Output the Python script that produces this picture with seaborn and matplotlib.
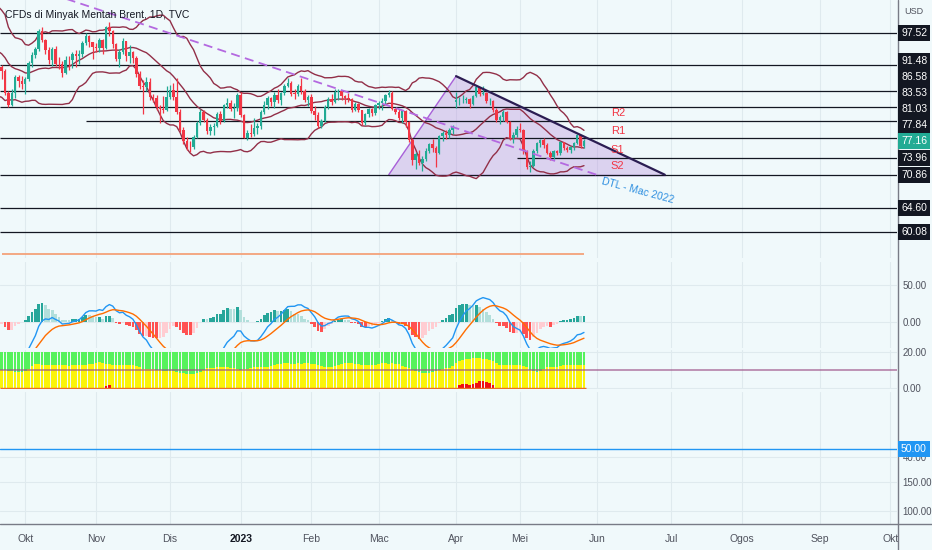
import numpy as np
import pandas as pd
import matplotlib
matplotlib.use("Agg")
import matplotlib.pyplot as plt
import seaborn as sns
from matplotlib.lines import Line2D
from matplotlib.patches import Polygon

sns.set_theme(style="white")
plt.rcParams['font.family'] = ['Liberation Sans', 'DejaVu Sans']

#########################
##### DATA #####
#########################
holidays = ['2022-12-26', '2023-01-02', '2023-04-07']

# closes before the visible window (only used to warm up the indicators)
warmup_closes = [99.34, 100.99, 105.09, 99.31, 96.49, 92.36, 93.02, 95.74, 92.83, 88.00,
                 89.15, 92.84, 94.00, 93.17, 94.10, 90.84, 91.35, 92.00, 90.62, 89.83]

# daily candles 2022-09-22 -> 2023-05-26
closes = [
    90.46, 86.15, 84.06, 86.27, 89.32, 88.49, 87.96,
    88.86, 91.80, 93.37, 94.42, 97.92, 96.19, 94.29, 92.45, 94.57, 91.63, 91.62, 90.03, 92.41, 92.38, 93.50, 93.26, 93.52, 95.69, 96.96, 95.77, 94.83,
    94.65, 96.16, 94.67, 98.57, 97.92, 95.36, 92.65, 94.00, 95.99, 93.14, 93.86, 92.86, 89.78, 87.62, 87.45, 88.36, 85.41, 85.34, 83.63, 83.19, 83.03, 85.43,
    86.88, 85.57, 82.68, 79.35, 77.17, 76.15, 76.10, 77.99, 80.68, 82.70, 81.21, 79.04, 79.80, 79.99, 82.20, 80.98, 83.92, 84.33, 83.26, 83.46, 85.91,
    82.10, 77.84, 78.69, 78.57, 79.65, 80.10, 82.67, 84.03, 85.28, 84.46, 85.92, 84.98, 86.16, 87.63, 88.19, 86.13, 86.12, 87.47, 86.66, 84.90, 85.46,
    82.84, 82.17, 79.94, 80.99, 83.69, 85.09, 84.50, 86.39, 86.61, 85.58, 85.38, 85.14, 83.00, 84.07, 83.05, 80.60, 82.21, 83.16, 82.45, 83.89,
    84.31, 84.75, 85.83, 86.18, 83.29, 82.66, 81.59, 82.78, 80.77, 77.45, 73.69, 74.70, 72.97, 73.79, 75.32, 76.69, 75.91, 74.99, 78.12, 78.65, 78.28, 79.27, 79.77,
    84.93, 84.94, 84.99, 85.12, 84.18, 85.61, 87.33, 86.09, 86.31, 84.76, 84.77, 83.12, 81.10, 81.66, 82.73, 80.77, 77.69, 78.37, 79.54,
    79.31, 75.32, 72.33, 72.50, 75.30, 76.75, 77.44, 76.41, 74.98, 74.17, 75.23, 74.91, 76.96, 75.86, 75.58, 75.99, 76.84, 78.36, 76.26, 77.16,
]
highs = [
    91.5, 90.7, 86.6, 86.9, 89.6, 89.6, 89.4,
    89.2, 92.2, 93.9, 94.8, 98.2, 98.7, 96.4, 94.9, 94.8, 95.0, 93.0, 92.2, 93.1, 93.2, 93.9, 94.3, 94.3, 96.0, 97.5, 97.1, 95.9,
    95.7, 96.6, 96.4, 98.8, 99.6, 98.1, 95.6, 94.5, 96.5, 96.1, 95.3, 94.1, 93.1, 90.4, 88.6, 89.2, 89.0, 86.0, 85.9, 84.0, 85.6, 87.6,
    87.8, 88.2, 89.0, 83.3, 79.9, 77.9, 77.2, 78.4, 80.9, 83.3, 83.0, 81.5, 80.4, 80.6, 82.6, 82.8, 84.2, 85.2, 84.9, 84.3, 86.2,
    86.4, 82.2, 79.2, 80.4, 81.5, 80.6, 83.0, 84.7, 85.6, 85.4, 86.4, 87.0, 86.5, 88.0, 89.1, 88.4, 86.9, 87.9, 89.0, 86.9, 85.8,
    86.1, 83.8, 82.6, 81.3, 83.9, 85.5, 86.1, 86.9, 86.9, 86.7, 85.9, 86.2, 85.2, 84.5, 84.4, 83.1, 82.4, 83.5, 83.4, 84.1,
    84.8, 85.2, 86.1, 86.8, 86.6, 83.5, 83.2, 83.0, 83.1, 81.0, 77.7, 75.1, 75.6, 74.3, 75.8, 76.9, 77.5, 76.3, 78.4, 79.0, 79.2, 79.7, 80.3,
    86.4, 85.4, 85.8, 85.5, 85.3, 85.8, 87.5, 87.4, 87.5, 86.5, 85.3, 85.0, 83.4, 82.0, 83.0, 82.8, 81.0, 78.8, 80.1,
    80.5, 79.5, 75.5, 73.4, 75.7, 77.0, 77.6, 77.7, 76.8, 75.4, 75.5, 75.5, 77.2, 77.1, 76.3, 76.2, 77.0, 78.6, 78.4, 77.5,
]
lows = [
    88.8, 85.8, 83.65, 83.8, 85.3, 87.3, 87.0,
    86.0, 88.5, 91.2, 92.8, 94.2, 95.8, 93.5, 91.6, 91.4, 91.3, 90.8, 89.3, 89.8, 90.6, 91.0, 91.1, 91.6, 93.0, 95.3, 94.8, 92.7,
    93.9, 94.0, 93.5, 94.5, 97.0, 94.7, 92.2, 91.2, 93.6, 92.3, 91.9, 91.8, 89.2, 86.9, 82.3, 86.7, 84.9, 84.5, 83.1, 80.6, 82.4, 82.8,
    85.1, 85.0, 82.2, 78.9, 76.7, 75.6, 75.1, 75.7, 77.8, 80.3, 80.7, 78.5, 78.4, 78.4, 79.9, 80.4, 80.8, 83.4, 82.8, 81.6, 82.9,
    81.7, 77.7, 77.3, 77.9, 78.2, 78.6, 79.5, 82.2, 83.3, 83.8, 83.4, 84.4, 83.9, 85.8, 87.3, 85.7, 85.1, 85.7, 86.1, 84.6, 83.7,
    82.5, 81.2, 79.6, 79.6, 80.8, 83.3, 84.0, 84.3, 84.9, 84.9, 84.2, 84.5, 82.6, 82.9, 82.7, 80.3, 80.3, 81.8, 81.9, 82.0,
    83.3, 83.0, 84.2, 85.5, 83.0, 82.2, 81.1, 80.6, 79.8, 77.0, 72.7, 72.0, 72.6, 71.6, 73.5, 74.9, 75.2, 72.4, 74.7, 77.2, 77.6, 77.8, 78.6,
    83.5, 84.0, 84.3, 84.4, 83.5, 83.9, 85.5, 85.7, 85.8, 84.4, 84.0, 82.7, 80.7, 80.4, 81.0, 80.5, 77.3, 76.8, 77.9,
    78.9, 74.8, 71.9, 71.4, 72.4, 74.9, 76.1, 75.8, 74.7, 73.7, 73.9, 74.5, 74.6, 75.6, 75.2, 74.9, 75.5, 76.6, 75.9, 75.8,
]
# opens = previous close, except these gaps
open_gaps = {'2022-09-22': 91.20, '2023-04-03': 84.50}

# horizontal levels drawn on the chart (start date, None = from left edge)
levels = [97.52, 91.48, 86.58, 83.53, 81.03, 77.84, 73.96, 70.86, 64.60, 60.08]
level_starts = {81.03: '2022-10-27', 73.96: '2023-04-28'}
orange_level = 55.94

# triangle and down trend line drawings
tri_dates = ['2023-03-06', '2023-04-03', '2023-06-29']
tri_prices = [70.86, 89.40, 70.86]
dtl_dates = ['2022-10-17', '2023-06-01']
dtl_prices = [104.4, 70.8]

sr_labels = ['R2', 'R1', 'S1', 'S2']
sr_prices = [82.5, 79.1, 75.5, 72.5]
sr_date = '2023-06-07'

# stacked indicator pane (one value per visible candle)
yellow = [
    10.2, 10.0, 9.6, 9.2, 9.0, 8.9, 9.1, 9.4, 10.5, 12.0,
    13.3, 13.6, 13.0, 12.6, 12.8, 12.9, 12.5, 12.7, 12.9, 12.6,
    12.4, 12.8, 13.0, 12.7, 12.5, 12.9, 13.1, 13.4, 13.9, 14.2,
    14.0, 13.6, 13.3, 13.0, 12.8, 12.6, 12.9, 12.7, 12.5, 12.8,
    12.2, 11.4, 10.8, 10.5, 10.3, 10.6, 10.2, 9.8, 9.6, 9.5,
    9.7, 9.2, 8.8, 8.5, 8.2, 7.9, 7.8, 8.0, 8.4, 9.0,
    10.2, 10.9, 11.2, 11.0, 11.4, 11.7, 11.9, 11.6, 11.3, 10.9,
    10.4, 10.1, 10.3, 10.6, 10.9, 11.4, 11.7, 11.9, 11.6, 11.8,
    12.2, 12.8, 13.3, 13.6, 13.9, 13.7, 13.4, 13.6, 13.8, 13.5,
    13.7, 13.9, 13.4, 13.2, 12.8, 12.3, 11.8, 11.6, 11.7, 12.2,
    13.0, 13.6, 13.9, 14.1, 13.8, 13.6, 13.2, 12.9, 12.7, 12.8,
    12.6, 12.9, 13.3, 13.7, 13.9, 13.6, 13.8, 13.5, 13.2, 12.4,
    11.6, 11.0, 10.2, 9.3, 8.8, 8.6, 8.4, 8.6, 8.9, 9.2,
    9.8, 10.6, 11.0, 11.3, 12.4, 14.0, 15.2, 15.8, 16.0, 16.3,
    16.6, 16.8, 16.5, 16.2, 16.0, 15.6, 14.8, 13.8, 13.0, 12.8,
    12.6, 12.9, 12.7, 12.5, 12.8, 12.4, 11.6, 10.2, 9.3, 9.0,
    9.6, 10.8, 11.6, 11.8, 11.5, 11.9, 12.3, 12.6, 12.8, 13.0,
    12.7, 12.9, 12.6, 12.8,
]
red_dates = ['2022-11-04', '2022-11-07', '2023-04-04', '2023-04-05', '2023-04-06', '2023-04-10', '2023-04-11',
             '2023-04-12', '2023-04-13', '2023-04-14', '2023-04-17', '2023-04-18', '2023-04-19']
red_vals = [1.2, 1.6, 1.6, 2.0, 2.0, 1.8, 2.4, 3.0, 4.0, 4.1, 3.2, 2.8, 1.6]
stack_top = 20
stack_line = 10

month_labels = ['Okt', 'Nov', 'Dis', '2023', 'Feb', 'Mac', 'Apr', 'Mei', 'Jun', 'Jul', 'Ogos', 'Sep', 'Okt']

#########################
##### MISE EN FORME #####
#########################
BG = '#f0f9fb'
UP, DN = '#22ab94', '#f23645'
BB_COL = '#922f48'
TXT = '#50535e'
W, H, PLOT_W = 932, 550, 897

cal = pd.bdate_range('2022-08-25', '2023-10-31', freq='C', holidays=holidays)
pos = pd.Series(np.arange(len(cal)), index=cal)
nw = len(warmup_closes)
n_all = nw + len(closes)

close_all = pd.Series(warmup_closes + closes, dtype=float)
x_all = np.arange(n_all)
x_vis = x_all[nw:]

o = close_all.shift(1).values[nw:].copy()
for d, v in open_gaps.items():
    o[pos[d] - nw] = v
c = np.array(closes)
hi = np.maximum(np.array(highs), np.maximum(o, c))
lo = np.minimum(np.array(lows), np.minimum(o, c))

# indicators
mid = close_all.rolling(20).mean()
sd = close_all.rolling(20).std(ddof=0)
bb_up, bb_lo = mid + 2 * sd, mid - 2 * sd
macd = close_all.ewm(span=12, adjust=False).mean() - close_all.ewm(span=26, adjust=False).mean()
signal = macd.ewm(span=9, adjust=False).mean()
hist = macd - signal
prev = hist.shift(1).fillna(0)
hist_col = np.where(hist >= 0, np.where(hist > prev, '#26a69a', '#b2dfdb'),
                    np.where(hist < prev, '#ff5252', '#ffcdd2'))

view_left = pos['2022-09-22'] - 0.5
view_right = view_left + 266.5

months = pd.Series(cal.to_period('M'), index=cal)
first_bars = pos.groupby(months.values).first()
month_pos = first_bars.loc[pd.Period('2022-10'):pd.Period('2023-10')].values

fig = plt.figure(figsize=(W / 100, H / 100), dpi=100, facecolor=BG)


def pane(top, bottom):
    a = fig.add_axes([0, 1 - bottom / H, PLOT_W / W, (bottom - top) / H])
    a.set_facecolor(BG)
    for s in a.spines.values():
        s.set_visible(False)
    a.set_xlim(view_left, view_right)
    a.set_xticks(month_pos)
    a.tick_params(axis='x', length=0, labelbottom=False)
    a.grid(axis='x', color='#dfeaee', lw=0.8)
    a.yaxis.tick_right()
    a.tick_params(axis='y', length=0, pad=4, labelsize=7, labelcolor=TXT)
    a.set_axisbelow(True)
    return a


# ---- price pane ----
ax = pane(0, 258)
y_top_px, y_px_per_unit = 33, 5.315
ax.set_ylim(97.52 - (258 - y_top_px) / y_px_per_unit, 97.52 + y_top_px / y_px_per_unit)
ax.set_yticks([])

tri_x = [pos[d] for d in tri_dates]
ax.add_patch(Polygon(list(zip(tri_x, tri_prices)), closed=True, fc='#b383d9', alpha=0.33, ec='none', zorder=1))
ax.plot(tri_x[:2], tri_prices[:2], color='#a860d8', lw=1, zorder=2)
ax.plot([tri_x[0], tri_x[2]], [tri_prices[0], tri_prices[2]], color='#a860d8', lw=1, zorder=2)

for lv in levels:
    start = pos[level_starts[lv]] if lv in level_starts else view_left
    ax.hlines(lv, start, view_right, color='#131722', lw=0.9, zorder=2)
ax.hlines(orange_level, x_vis[0], x_vis[-1], color='#f4a27a', lw=1.3, zorder=2)

sns.lineplot(x=x_all, y=bb_up, ax=ax, color=BB_COL, lw=1, estimator=None, zorder=3)
sns.lineplot(x=x_all, y=mid, ax=ax, color=BB_COL, lw=1, estimator=None, zorder=3)
sns.lineplot(x=x_all, y=bb_lo, ax=ax, color=BB_COL, lw=1, estimator=None, zorder=3)

cols = np.where(c >= o, UP, DN)
ax.vlines(x_vis, lo, hi, colors=cols, lw=0.9, zorder=4)
ax.bar(x_vis, np.maximum(np.abs(c - o), 0.06), bottom=np.minimum(o, c), width=0.72, color=cols, lw=0, zorder=5)

ax.plot(tri_x[1:], tri_prices[1:], color='#2b1d52', lw=1.6, zorder=6)
ax.plot([pos[d] for d in dtl_dates], dtl_prices, color='#b469e0', lw=1.3, ls=(0, (5, 3)), zorder=6)

for lab, pr in zip(sr_labels, sr_prices):
    ax.text(pos[sr_date], pr, lab, color='#f23645', fontsize=8, va='center', ha='left', zorder=7)
ax.text(pos['2023-06-19'], 67.9, 'DTL - Mac 2022', color='#2e8fe0', fontsize=7.5, rotation=-15,
        ha='center', va='center', rotation_mode='anchor', zorder=7)
ax.set_xlabel('')
ax.set_ylabel('')

# ---- MACD pane ----
ax2 = pane(262, 348)
ax2.bar(x_all, hist, width=0.8, color=hist_col, lw=0)
sns.lineplot(x=x_all, y=macd, ax=ax2, color='#2196f3', lw=1, estimator=None)
sns.lineplot(x=x_all, y=signal, ax=ax2, color='#ff6d00', lw=1, estimator=None)
ax2.set_ylim(-1.8, 4.1)
ax2.set_yticks([0, 2.5], ['0.00', '50.00'])
ax2.grid(axis='y', color='#dfeaee', lw=0.8)
ax2.set_xlabel('')
ax2.set_ylabel('')

# ---- stacked pane ----
ax3 = pane(350, 389)
red = np.zeros(len(closes))
for d, v in zip(red_dates, red_vals):
    red[pos[d] - nw] = v
ax3.bar(x_vis, stack_top, width=0.8, color='#56f25c', lw=0, zorder=2)
ax3.bar(x_vis, yellow, width=0.8, color='#fbf40a', lw=0, zorder=3)
ax3.bar(x_vis, red, width=0.8, color='#f01010', lw=0, zorder=4)
ax3.axhline(stack_line, color='#9b4f86', lw=1.2, alpha=0.7, zorder=5)
ax3.hlines(0, x_vis[0] - 0.5, x_vis[-1] + 0.5, color='#e8702a', lw=1, zorder=5)
ax3.set_ylim(-0.55, 21.1)
ax3.set_yticks([0, 20], ['0.00', '20.00'])
ax3.grid(axis='y', color='#dfeaee', lw=0.8)

# ---- empty panes ----
ax4 = pane(392, 467)
ax4.set_ylim(27.5, 121.25)
ax4.set_yticks([40], ['40.00'])
ax4.grid(axis='y', color='#dfeaee', lw=0.8)
ax4.axhline(50, color='#2196f3', lw=1)

ax5 = pane(467, 524)
ax5.set_ylim(77.6, 175.9)
ax5.set_yticks([100, 150], ['100.00', '150.00'])
ax5.grid(axis='y', color='#dfeaee', lw=0.8)
ax5.tick_params(axis='x', labelbottom=True, pad=7, labelsize=7.5, labelcolor=TXT)
ax5.set_xticks(month_pos, month_labels)
for t in ax5.get_xticklabels():
    if t.get_text() == '2023':
        t.set_fontweight('bold')
        t.set_color('#131722')

# ---- right-hand price labels (pushed apart like the platform does) ----
last_price = closes[-1]
lab_prices = sorted(levels + [last_price])
natural = [H - ax.transData.transform((view_right, p))[1] for p in lab_prices]
placed = []
prev_y = None
for y in natural:  # lowest price first
    y_new = y if prev_y is None else min(y, prev_y - 16)
    placed.append(y_new)
    prev_y = y_new
for p, y in zip(lab_prices, placed):
    fc = '#22ab94' if p == last_price else '#131722'
    fig.text(901 / W, 1 - y / H, f'{p:.2f}', color='white', fontsize=7.5, va='center', ha='left',
             bbox=dict(boxstyle='square,pad=0.3', fc=fc, ec='none'))
y50 = H - ax4.transData.transform((view_right, 50))[1]
fig.text(901 / W, 1 - y50 / H, '50.00', color='white', fontsize=7.5, va='center', ha='left',
         bbox=dict(boxstyle='square,pad=0.3', fc='#2196f3', ec='none'))
fig.text(904 / W, 1 - 12 / H, 'USD', color=TXT, fontsize=6.5, va='center', ha='left')

fig.text(5 / W, 1 - 15 / H, 'CFDs di Minyak Mentah Brent, 1D, TVC', color='#131722', fontsize=7.5, va='center', ha='left')

fig.add_artist(Line2D([(PLOT_W + 0.5) / W] * 2, [0, 1], transform=fig.transFigure, color='#787b86', lw=1))
fig.add_artist(Line2D([0, 1], [1 - 524 / H] * 2, transform=fig.transFigure, color='#787b86', lw=1))

fig.savefig('out.png', dpi=100, facecolor=BG)
